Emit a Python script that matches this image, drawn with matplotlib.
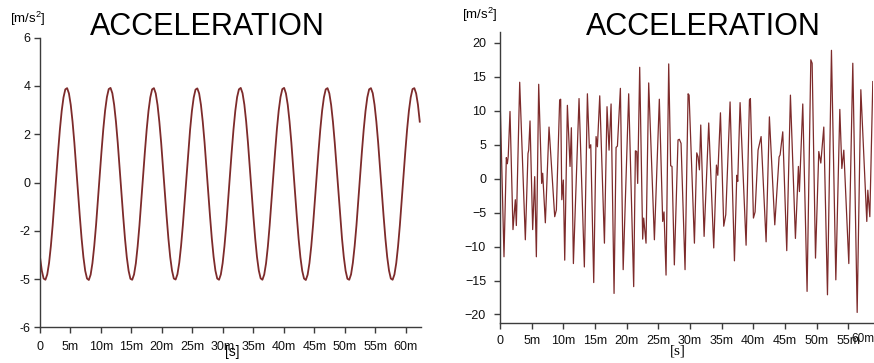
import numpy as np
import matplotlib
matplotlib.use("Agg")
import matplotlib.pyplot as plt

plt.rcParams['font.family'] = ['Liberation Sans', 'DejaVu Sans']
plt.rcParams['mathtext.fontset'] = 'custom'
plt.rcParams['mathtext.rm'] = 'Liberation Sans'
plt.rcParams['mathtext.it'] = 'Liberation Sans:italic'

# ---------------- data: left chart (sampled every 0.29665 ms) ----------------
left_step_ms = 0.29665
left_values = [
    -3.09, -3.65, -3.98, -4.03, -3.81, -3.34, -2.64, -1.77, -0.78, 0.26, 1.27, 2.20,
    2.97, 3.53, 3.86, 3.91, 3.69, 3.22, 2.52, 1.65, 0.66, -0.38, -1.39, -2.32,
    -3.09, -3.66, -3.98, -4.04, -3.82, -3.34, -2.63, -1.76, -0.77, 0.27, 1.28, 2.21,
    2.98, 3.54, 3.87, 3.92, 3.70, 3.22, 2.52, 1.64, 0.65, -0.39, -1.40, -2.33,
    -3.10, -3.66, -3.99, -4.03, -3.81, -3.35, -2.64, -1.77, -0.78, 0.26, 1.27, 2.20,
    2.97, 3.53, 3.86, 3.91, 3.69, 3.21, 2.51, 1.65, 0.66, -0.38, -1.39, -2.32,
    -3.09, -3.65, -3.98, -4.02, -3.80, -3.33, -2.63, -1.77, -0.78, 0.25, 1.26, 2.19,
    2.96, 3.52, 3.85, 3.90, 3.69, 3.22, 2.52, 1.66, 0.67, -0.37, -1.38, -2.31,
    -3.08, -3.65, -3.98, -4.03, -3.81, -3.34, -2.64, -1.78, -0.79, 0.26, 1.27, 2.20,
    2.97, 3.54, 3.86, 3.92, 3.70, 3.23, 2.53, 1.65, 0.66, -0.38, -1.39, -2.32,
    -3.09, -3.65, -3.97, -4.03, -3.81, -3.35, -2.65, -1.77, -0.78, 0.26, 1.27, 2.21,
    2.98, 3.54, 3.87, 3.92, 3.69, 3.22, 2.52, 1.65, 0.66, -0.39, -1.40, -2.33,
    -3.10, -3.66, -3.98, -4.04, -3.82, -3.34, -2.64, -1.76, -0.77, 0.27, 1.28, 2.20,
    2.97, 3.53, 3.86, 3.91, 3.69, 3.21, 2.51, 1.64, 0.65, -0.38, -1.39, -2.32,
    -3.09, -3.66, -3.99, -4.03, -3.81, -3.33, -2.63, -1.77, -0.78, 0.26, 1.27, 2.19,
    2.96, 3.53, 3.86, 3.91, 3.70, 3.22, 2.52, 1.65, 0.66, -0.38, -1.39, -2.32,
    -3.09, -3.65, -3.98, -4.03, -3.81, -3.34, -2.64, -1.77, -0.78, 0.26, 1.27, 2.20,
    2.97, 3.53, 3.87, 3.91, 3.69, 3.22, 2.52,
]
left_time = np.arange(len(left_values)) * left_step_ms
left_yticks = [6, 4, 2, 0, -2, -4, -6]
left_yticklabels = ["6", "4", "2", "0", "-2", "-5", "-6"]
left_xticks = [0, 5, 10, 15, 20, 25, 30, 35, 40, 45, 50, 55, 60]
left_xticklabels = ["0", "5m", "10m", "15m", "20m", "25m", "30m", "35m",
                    "40m", "45m", "50m", "55m", "60m"]

# ---------------- data: right chart ----------------
right_time = [
    0.0, 0.63, 1.0, 1.16, 1.3, 1.58, 2.05, 2.42, 2.58, 3.11, 4.0, 4.42, 4.53,
    4.74, 5.16, 5.48, 5.74, 6.11, 6.58, 6.74, 7.16, 7.74, 8.64, 8.9, 9.42,
    9.58, 9.76, 10.0, 10.22, 10.64, 11.06, 11.27, 11.59, 12.48, 13.32, 13.8,
    14.11, 14.33, 14.8, 15.17, 15.38, 15.75, 16.49, 16.9, 17.22, 17.54, 18.01,
    18.33, 18.54, 19.01, 19.45, 20.32, 21.11, 21.38, 21.59, 21.74, 22.06,
    22.53, 22.69, 23.06, 23.48, 24.38, 25.16, 25.69, 25.9, 26.22, 26.64,
    26.95, 27.16, 27.53, 28.11, 28.32, 28.59, 29.22, 29.7, 29.86, 30.7,
    31.07, 31.28, 31.49, 31.7, 32.23, 32.96, 33.75, 34.18, 34.39, 34.81,
    35.33, 35.65, 36.33, 37.02, 37.39, 37.54, 37.91, 38.86, 39.39, 39.54,
    40.02, 40.28, 40.75, 41.23, 42.02, 42.54, 43.39, 44.07, 44.23, 44.65,
    45.28, 45.86, 46.65, 47.12, 47.28, 47.81, 48.49, 49.08, 49.29, 49.82,
    50.34, 50.66, 51.13, 51.71, 52.34, 53.03, 53.66, 53.98, 54.29, 55.08,
    55.71, 56.4, 56.98, 57.92, 58.08, 58.4, 58.87,
]
right_values = [
    12.3, -11.5, 3.1, 2.2, 3.3, 9.9, -7.5, -3.1, -6.9, 14.2, -9.0, 3.7, 4.2,
    8.5, -7.5, 0.3, -11.5, 13.9, -0.7, 0.8, -6.5, 7.6, -5.6, -4.6, 11.6,
    11.7, -3.1, -0.2, -12.0, 10.8, 1.8, 7.5, -12.5, 11.8, -13.0, 12.5,
    4.5, 5.0, -15.3, 6.2, 4.7, 12.2, -9.5, 10.6, 4.2, 11.0, -16.9,
    4.6, 4.8, 13.3, -13.4, 12.5, -15.9, 4.1, 4.0, -0.7, 16.4,
    -8.9, -5.8, -9.5, 14.1, -9.0, 11.7, -6.3, -4.9, -14.2, 16.9,
    1.9, 1.8, -12.7, 5.7, 5.8, 5.2, -13.4, 12.5, 12.3, -9.5,
    3.8, 3.2, 1.3, 7.9, -8.5, 8.2, -10.2, 2.0, 0.5, 9.7,
    -7.0, -5.3, 11.3, -12.1, 0.5, -0.4, 11.2, -9.8, 11.6, 11.8,
    -5.8, -4.9, 4.2, 6.2, -9.3, 9.1, -6.8, 3.2, 3.5, 6.9,
    -10.6, 12.3, -8.8, 1.8, -1.9, 11.0, -16.6, 17.5, 17.0, -11.7,
    4.0, 2.3, 7.6, -17.1, 18.9, -14.9, 10.2, 1.5, 4.2, -12.5,
    17.0, -19.7, 13.1, -6.3, -1.7, -5.6, 14.3,
]
right_yticks = [20, 15, 10, 5, 0, -5, -10, -15, -20]
right_xticks = [0, 5, 10, 15, 20, 25, 30, 35, 40, 45, 50, 55]
right_xticklabels = ["0", "5m", "10m", "15m", "20m", "25m", "30m", "35m",
                     "40m", "45m", "50m", "55m"]

title_text = "ACCELERATION"
ylabel_text = r"[m/s$^{\mathrm{2}}$]"
xlabel_text = "[s]"

# ---------------- drawing ----------------
W, H = 874, 363
line_color = "#7d2b2b"
spine_color = "#3c3c3c"

fig = plt.figure(figsize=(W / 100, H / 100), dpi=100)


def style(ax, ypad, xpad):
    for s in ("top", "right"):
        ax.spines[s].set_visible(False)
    for s in ("left", "bottom"):
        ax.spines[s].set_color(spine_color)
        ax.spines[s].set_linewidth(1.0)
    ax.tick_params(axis="both", direction="out", length=4, width=1.0,
                   color=spine_color, labelsize=9, labelcolor="#111111")
    ax.tick_params(axis="y", pad=ypad)
    ax.tick_params(axis="x", pad=xpad)
    ax.patch.set_alpha(0)


ax1 = fig.add_axes([40 / W, 1 - 327.3 / H, 381 / W, (327.3 - 37.7) / H])
ax1.plot(left_time, left_values, color=line_color, lw=1.3)
ax1.set_xlim(0, 62.5)
ax1.set_ylim(-6, 6)
ax1.set_yticks(left_yticks)
ax1.set_yticklabels(left_yticklabels)
ax1.set_xticks(left_xticks)
ax1.set_xticklabels(left_xticklabels)
style(ax1, 3, 6)

ax2 = fig.add_axes([500 / W, 1 - 323.3 / H, 373 / W, (323.3 - 32) / H])
ax2.plot(right_time, right_values, color=line_color, lw=0.9)
ax2.set_xlim(0, 58.9)
ax2.set_ylim(-21.3, 21.6)
ax2.set_yticks(right_yticks)
ax2.set_xticks(right_xticks)
ax2.set_xticklabels(right_xticklabels)
style(ax2, 6, 4.5)
# last tick label squeezed at the right edge
fig.text(874 / W, 1 - 333.5 / H, "60m", ha="right", va="top", fontsize=8.5,
         color="#111111")

# titles
fig.text(207 / W, 1 - 27 / H, title_text, ha="center", va="center", fontsize=22)
fig.text(703 / W, 1 - 27 / H, title_text, ha="center", va="center", fontsize=22)

# axis unit labels
fig.text(10 / W, 1 - 23 / H, ylabel_text, ha="left", va="baseline", fontsize=9.5)
fig.text(462 / W, 1 - 19 / H, ylabel_text, ha="left", va="baseline", fontsize=9.5)
fig.text(232 / W, 1 - 352 / H, xlabel_text, ha="center", va="center", fontsize=10)
fig.text(678 / W, 1 - 351 / H, xlabel_text, ha="center", va="center", fontsize=11,
         family=["Liberation Serif", "DejaVu Serif"])

fig.savefig("out.png", dpi=100)
